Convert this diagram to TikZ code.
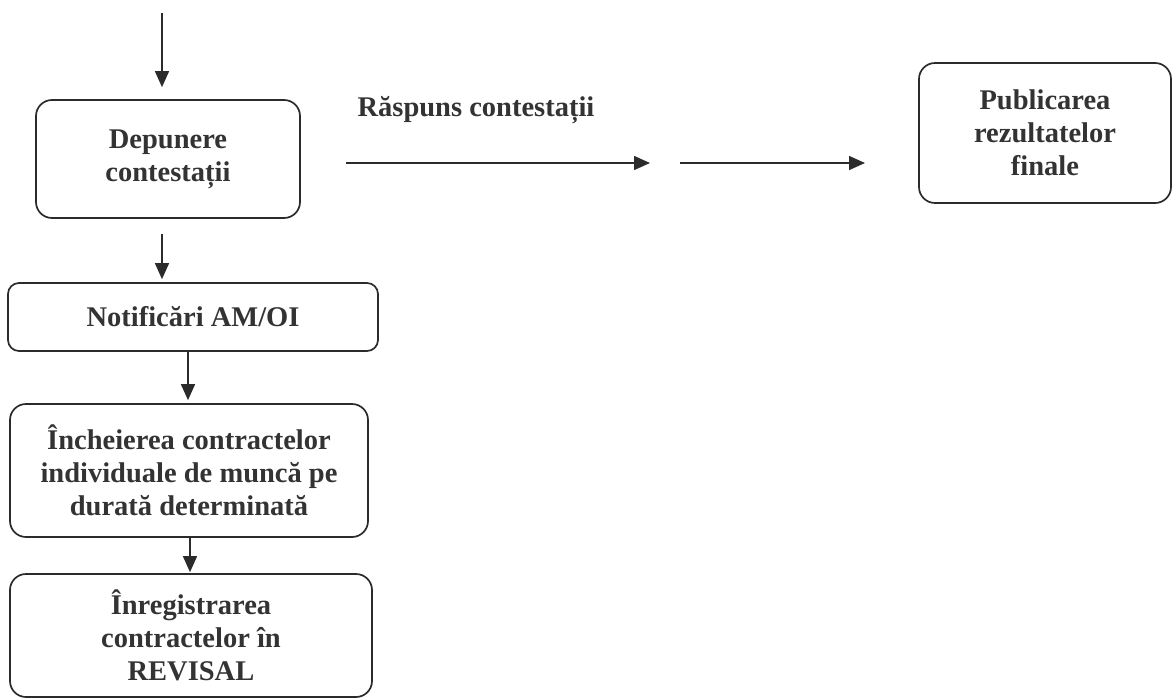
\documentclass[tikz,border=0pt]{standalone}
\usepackage{fontspec}
\setmainfont{Liberation Serif}
\usetikzlibrary{arrows.meta}
\definecolor{boxline}{HTML}{2B2B2B}
\definecolor{txt}{HTML}{333333}

\begin{document}
\begin{tikzpicture}[x=1pt,y=-1pt]
\tikzstyle{every node}+=[inner sep=0pt]
\tikzstyle{box}=[draw=boxline, line width=1.7pt, rounded corners=16pt, align=center, text=txt, font=\bfseries\fontsize{28.5}{33}\selectfont]
\tikzstyle{arr}=[draw=boxline, line width=1.5pt, -{Triangle[length=16pt,width=14pt]}]
\useasboundingbox (0,0) rectangle (1174,699);
% boxes
\node[box, minimum width=264pt, minimum height=118pt] (dep) at (168,159) {Depunere\\contestații};
\node[box, minimum width=252pt, minimum height=140pt] (pub) at (1045,133) {Publicarea\\rezultatelor\\finale};
\node[box, rounded corners=11pt, minimum width=370pt, minimum height=68pt] (notif) at (193,317) {Notificări AM/OI};
\node[box, minimum width=358pt, minimum height=133pt] (inch) at (189,470.5) {Încheierea contractelor\\individuale de muncă pe\\durată determinată};
\node[box, minimum width=362pt, minimum height=123pt] (inreg) at (191,635.5) {Înregistrarea\\contractelor în\\REVISAL};
\node[text=txt, font=\bfseries\fontsize{28.5}{33}\selectfont] (rasp) at (476,110) {Răspuns contestații};
% free ends
\coordinate (in) at (162,13);
\coordinate (r1s) at (346,163);
\coordinate (r1e) at (650,163);
\coordinate (r2s) at (680,163);
\coordinate (r2e) at (865,163);
% arrows
\draw[arr, shorten >=12pt] (in) -- (in |- dep.north);
\draw[arr] (r1s) -- (r1e);
\draw[arr] (r2s) -- (r2e);
\draw[arr, shorten <=15pt, shorten >=3pt] ([xshift=-6pt]dep.south) -- ([xshift=-6pt]dep.south |- notif.north);
\draw[arr, shorten >=3pt] ([xshift=-5pt]notif.south) -- ([xshift=-5pt]notif.south |- inch.north);
\draw[arr, shorten >=1pt] ([xshift=1pt]inch.south) -- ([xshift=1pt]inch.south |- inreg.north);
\end{tikzpicture}
\end{document}
